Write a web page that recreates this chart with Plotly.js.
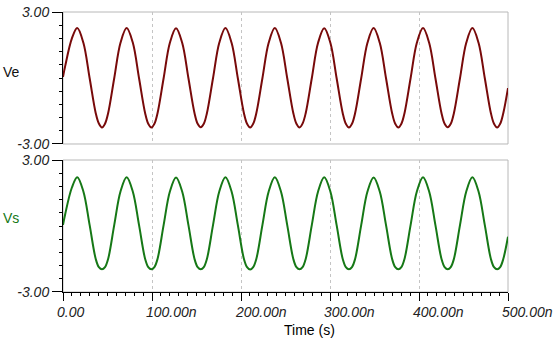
<!DOCTYPE html>
<html>
<head>
<meta charset="utf-8">
<script src="https://cdn.plot.ly/plotly-3.0.1.min.js"></script>
<style>html,body{margin:0;padding:0;background:#fff;}#chart{width:560px;height:352px;}</style>
</head>
<body>
<div id="chart"></div>
<script>
// Time samples in ns
const timeNs = [
  0, 2.5, 10,
  16, 22.9, 29.9, 36.8, 40.3, 43.8, 47.2, 50.7, 57.6, 64.6,
  71.5, 78.4, 85.4, 92.3, 95.8, 99.3, 102.7, 106.2, 113.1, 120.1,
  127, 133.9, 140.9, 147.8, 151.3, 154.8, 158.2, 161.7, 168.6, 175.6,
  182.5, 189.4, 196.4, 203.3, 206.8, 210.3, 213.7, 217.2, 224.1, 231.1,
  238, 244.9, 251.9, 258.8, 262.3, 265.8, 269.2, 272.7, 279.6, 286.6,
  293.5, 300.4, 307.4, 314.3, 317.8, 321.3, 324.7, 328.2, 335.1, 342.1,
  349, 355.9, 362.9, 369.8, 373.3, 376.8, 380.2, 383.7, 390.6, 397.6,
  404.5, 411.4, 418.4, 425.3, 428.8, 432.3, 435.7, 439.2, 446.1, 453.1,
  460, 466.9, 473.9, 480.8, 484.3, 487.8, 491.2, 494.7, 500
];
const veValues = [
  0.05, 0.55, 1.8,
  2.27, 1.6, 0.0, -1.6, -2.07, -2.25, -2.08, -1.6, 0.0, 1.6,
  2.27, 1.61, 0.0, -1.6, -2.08, -2.25, -2.08, -1.6, 0.0, 1.6,
  2.26, 1.6, 0.0, -1.6, -2.08, -2.24, -2.08, -1.6, 0.0, 1.6,
  2.27, 1.6, 0.0, -1.6, -2.08, -2.25, -2.08, -1.6, 0.0, 1.6,
  2.27, 1.6, 0.0, -1.6, -2.08, -2.25, -2.07, -1.6, 0.0, 1.6,
  2.26, 1.6, 0.0, -1.6, -2.08, -2.25, -2.08, -1.6, 0.0, 1.6,
  2.27, 1.6, 0.0, -1.6, -2.08, -2.25, -2.08, -1.6, 0.0, 1.6,
  2.27, 1.6, 0.0, -1.6, -2.08, -2.24, -2.08, -1.6, 0.0, 1.6,
  2.27, 1.6, 0.0, -1.6, -2.08, -2.25, -2.08, -1.6, -0.46
];
const vsValues = [
  0.05, 0.55, 1.75,
  2.22, 1.57, 0.05, -1.5, -1.87, -1.97, -1.87, -1.5, 0.05, 1.57,
  2.22, 1.57, 0.05, -1.5, -1.87, -1.97, -1.87, -1.5, 0.05, 1.57,
  2.21, 1.57, 0.05, -1.5, -1.87, -1.97, -1.87, -1.5, 0.05, 1.57,
  2.22, 1.57, 0.05, -1.5, -1.87, -1.98, -1.87, -1.5, 0.05, 1.57,
  2.22, 1.57, 0.05, -1.5, -1.87, -1.97, -1.87, -1.5, 0.05, 1.57,
  2.22, 1.57, 0.05, -1.5, -1.87, -1.97, -1.87, -1.5, 0.05, 1.57,
  2.21, 1.57, 0.05, -1.5, -1.87, -1.97, -1.87, -1.5, 0.05, 1.57,
  2.22, 1.57, 0.05, -1.5, -1.87, -1.97, -1.87, -1.5, 0.05, 1.57,
  2.22, 1.57, 0.05, -1.5, -1.87, -1.97, -1.87, -1.5, -0.49
];
const xTickVals = [0, 100, 200, 300, 400, 500];
const xTickText = ["0.00", "100.00n", "200.00n", "300.00n", "400.00n", "500.00n"];
const yTickVals = [-3, 3];
const yTickText = ["-3.00", "3.00"];
const seriesNames = ["Ve", "Vs"];
const seriesColors = ["#780a0a", "#167816"];

const traces = [
  {x: timeNs, y: veValues, xaxis: 'x', yaxis: 'y', type: 'scatter', mode: 'lines',
   name: seriesNames[0], line: {color: seriesColors[0], width: 2, shape: 'spline', smoothing: 1}},
  {x: timeNs, y: vsValues, xaxis: 'x2', yaxis: 'y2', type: 'scatter', mode: 'lines',
   name: seriesNames[1], line: {color: seriesColors[1], width: 2, shape: 'spline', smoothing: 1}}
];

const tickFont = {family: 'Liberation Sans, Arial, sans-serif', size: 14, color: '#222', style: 'italic'};
const gridCol = '#c4c4c4';
const frameCol = '#b8b8b8';
const topDom = [0.5286, 1];
const botDom = [0, 0.4714];

function yAxis(dom, anchor) {
  return {
    domain: dom, anchor: anchor, range: [-3, 3], fixedrange: true,
    showline: true, linecolor: '#000', linewidth: 1,
    ticks: 'outside', ticklen: 10, tickcolor: '#000', tickwidth: 1,
    tickmode: 'array', tickvals: yTickVals, ticktext: yTickText, tickfont: tickFont,
    minor: {tickmode: 'linear', tick0: -3, dtick: 0.6, ticks: 'outside', ticklen: 3, tickcolor: '#000', showgrid: false},
    showgrid: false, zeroline: false
  };
}

const annotations = [];
xTickVals.forEach((v, i) => {
  annotations.push({x: v, xref: 'x2', y: 0, yref: 'paper', text: xTickText[i], showarrow: false,
    xanchor: 'left', yanchor: 'top', xshift: -8, yshift: -10, font: tickFont});
});
annotations.push({x: 0.492, xref: 'paper', y: -0.137, yref: 'paper', text: 'Time (s)', showarrow: false,
  xanchor: 'left', yanchor: 'middle', font: {family: 'Liberation Sans, Arial, sans-serif', size: 14, color: '#000'}});
annotations.push({x: -0.139, xref: 'paper', y: 0.7857, yref: 'paper', text: seriesNames[0], showarrow: false,
  xanchor: 'left', yanchor: 'middle', font: {family: 'Liberation Sans, Arial, sans-serif', size: 14, color: '#111'}});
annotations.push({x: -0.139, xref: 'paper', y: 0.264, yref: 'paper', text: seriesNames[1], showarrow: false,
  xanchor: 'left', yanchor: 'middle', font: {family: 'Liberation Sans, Arial, sans-serif', size: 14, color: seriesColors[1]}});

const layout = {
  width: 560, height: 352,
  margin: {l: 63, r: 52, t: 12, b: 60, pad: 0},
  paper_bgcolor: '#fff', plot_bgcolor: '#fff',
  showlegend: false,
  xaxis: {domain: [0, 1], anchor: 'y', range: [0, 500], fixedrange: true,
    showline: false, ticks: '', showticklabels: false,
    tickmode: 'array', tickvals: [100, 200, 300, 400],
    showgrid: true, gridcolor: gridCol, griddash: '3px,3px', gridwidth: 1, zeroline: false},
  xaxis2: {domain: [0, 1], anchor: 'y2', range: [0, 500], fixedrange: true,
    showline: true, linecolor: '#000', linewidth: 1,
    ticks: 'outside', ticklen: 8, tickcolor: '#000', tickwidth: 1,
    tickmode: 'array', tickvals: xTickVals, showticklabels: false,
    minor: {tickmode: 'linear', dtick: 10, tick0: 0, ticks: 'outside', ticklen: 3, tickcolor: '#000', showgrid: false},
    showgrid: true, gridcolor: gridCol, griddash: '3px,3px', gridwidth: 1, zeroline: false},
  yaxis: yAxis(topDom, 'x'),
  yaxis2: yAxis(botDom, 'x2'),
  shapes: [
    {type: 'rect', xref: 'paper', yref: 'paper', x0: 0, x1: 1, y0: topDom[0], y1: topDom[1],
     line: {color: frameCol, width: 1}, layer: 'below'},
    {type: 'rect', xref: 'paper', yref: 'paper', x0: 0, x1: 1, y0: botDom[0], y1: botDom[1],
     line: {color: frameCol, width: 1}, layer: 'below'}
  ],
  annotations: annotations
};

Plotly.newPlot('chart', traces, layout, {staticPlot: true, displayModeBar: false});
</script>
</body>
</html>
